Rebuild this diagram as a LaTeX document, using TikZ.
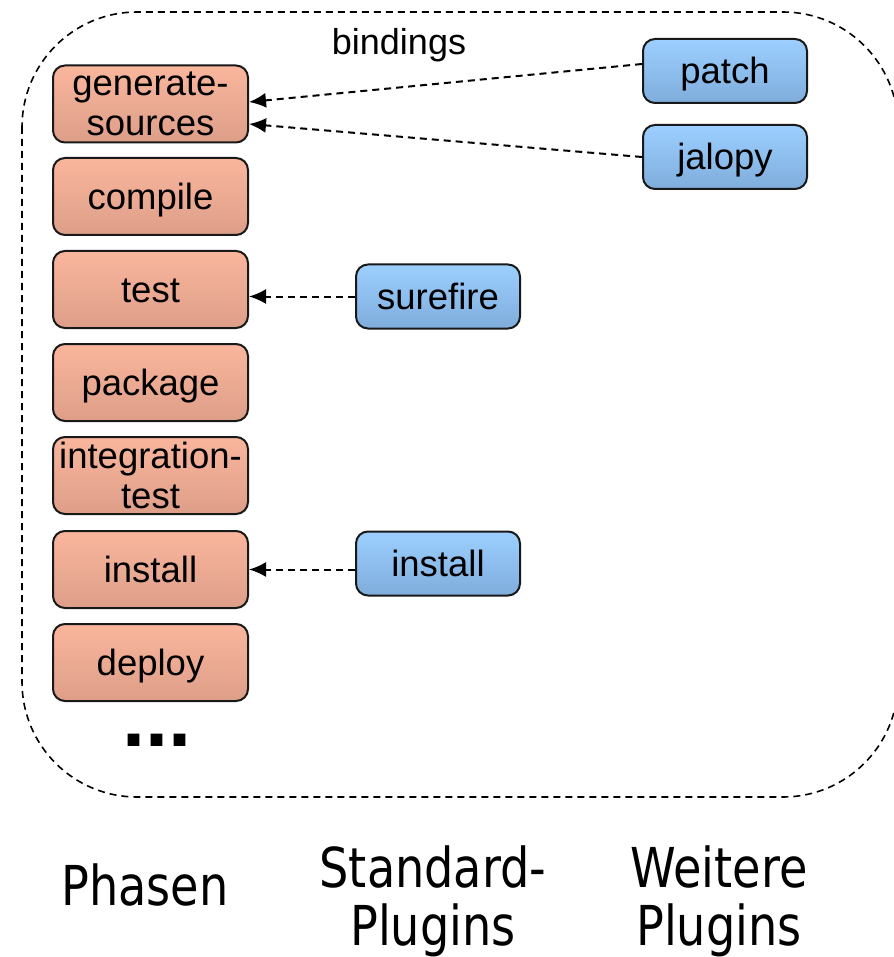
\documentclass[tikz,border=0pt]{standalone}
\usepackage{fontspec}
\setmainfont{Liberation Sans}
\newfontfamily\labelfont[FakeStretch=0.84]{DejaVu Sans}
\usetikzlibrary{arrows.meta}
\definecolor{phasetop}{RGB}{250,182,157}
\definecolor{phasebot}{RGB}{221,158,136}
\definecolor{plugtop}{RGB}{156,207,255}
\definecolor{plugbot}{RGB}{127,173,220}
\tikzset{
  phase/.style = {draw = black!90, line width = 2pt, rounded corners = 12pt, top color = phasetop, bottom color = phasebot,
    minimum width = 195pt, minimum height = 77pt, inner sep = 0pt, align = center,
    text height = 26pt, text depth = 0pt, font = \fontsize{36.5}{40}\selectfont},
  twolines/.style = {text height = {}, text depth = {}},
  plugin/.style = {draw = black!90, line width = 2pt, rounded corners = 12pt, top color = plugtop, bottom color = plugbot,
    minimum width = 164pt, minimum height = 64pt, inner sep = 0pt,
    text height = 26pt, text depth = 0pt, font = \fontsize{36.5}{40}\selectfont},
  binding/.style = {-{Latex[length = 17pt, width = 15pt]}, dash pattern = on 7pt off 5pt, line width = 2pt},
  column/.style = {inner sep = 0pt, align = center, font = \labelfont\fontsize{55}{58}\selectfont}
}
\begin{document}
\begin{tikzpicture}[x = 1pt, y = -1pt]
            \useasboundingbox (0, 0) rectangle (893, 957);
            \draw [dash pattern = on 7pt off 5pt, line width = 1.6pt, rounded corners = 115pt] (22, 12) rectangle (898, 797);
            \node [phase, twolines] (gs) at (150.5, 104) {generate-\\sources};
            \node [phase] (compile) at (150.5, 196.5) {compile};
            \node [phase] (test) at (150.5, 289.5) {test};
            \node [phase] (package) at (150.5, 382.5) {package};
            \node [phase, twolines] (itest) at (150.5, 475.5) {integration-\\test};
            \node [phase] (install) at (150.5, 569.5) {install};
            \node [phase] (deploy) at (150.5, 662.5) {deploy};
            \node [inner sep = 0pt, anchor = base, font = \fontsize{83}{83}\bfseries] (more) at (157, 746) {...};
            \node [plugin] (patch) at (725, 71) {patch};
            \node [plugin] (jalopy) at (725, 157) {jalopy};
            \node [plugin] (surefire) at (438, 296.5) {surefire};
            \node [plugin] (plinstall) at (438, 563.5) {install};
            \node [inner sep = 0pt, anchor = base, font = \fontsize{36}{40}\selectfont] (bindings) at (399, 55) {bindings};
            \draw [binding] ([yshift = 7pt] patch.west) -- ([yshift = 2pt] gs.east);
            \draw [binding] (jalopy.west) -- ([yshift = -20pt] gs.east);
            \draw [binding] (surefire.west) -- (surefire.west -| test.east);
            \draw [binding] (plinstall.west |- install.east) -- (install.east);
            \node [column, anchor = base] (phasen) at (145, 905) {Phasen};
            \node [column] (standard) at (433, 901) {Standard-\\Plugins};
            \node [column] (weitere) at (719, 901) {Weitere\\Plugins};
\end{tikzpicture}
\end{document}
